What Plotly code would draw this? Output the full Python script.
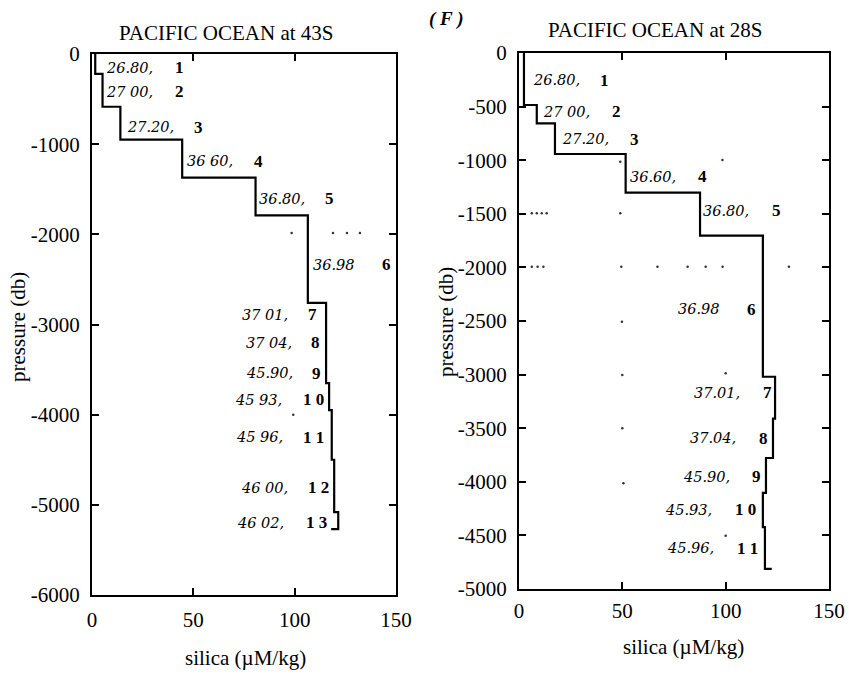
import plotly.graph_objects as go

# ---- Pacific Ocean at 43S: silica step profile ----
s43_silica = [1.6, 5.2, 14.0, 44.5, 80.7, 106.5, 115.5, 117.0, 118.3, 119.5, 121.5]
s43_bottom = [-220, -585, -950, -1370, -1790, -2760, -3650, -3950, -4500, -5080, -5270]
s43_end_silica = 118.0

s43_labels = ["26.80,", "27 00,", "27.20,", "36 60,", "36.80,", "36.98", "37 01,",
              "37 04,", "45.90,", "45 93,", "45 96,", "46 00,", "46 02,"]
s43_index = ["1", "2", "3", "4", "5", "6", "7", "8", "9", "1 0", "1 1", "1 2", "1 3"]
s43_label_x = [6.9, 6.9, 17.3, 46.9, 82.4, 109.0, 74.0, 76.0, 76.0, 70.6, 71.0, 73.5, 71.5]
s43_label_y = [-155, -421, -810, -1187, -1608, -2340, -2894, -3205, -3538, -3837, -4248, -4813, -5201]
s43_index_x = [43.1, 43.1, 52.5, 82.0, 117.4, 145.4, 109.0, 110.5, 110.9, 109.5, 109.5, 112.0, 110.9]

s43_dot_x = [98.5, 118.9, 125.8, 132.2, 99.3]
s43_dot_y = [-1985, -1985, -1985, -1985, -4000]

s43_ticks_x = [0, 50, 100, 150]
s43_ticks_y = [0, -1000, -2000, -3000, -4000, -5000, -6000]

# ---- Pacific Ocean at 28S: silica step profile ----
s28_silica = [2.4, 8.6, 17.4, 51.6, 87.6, 118.0, 123.9, 122.9, 119.5, 118.0, 119.0]
s28_bottom = [-485, -656, -942, -1303, -1704, -3020, -3410, -3778, -4104, -4422, -4813]
s28_end_silica = 122.3

s28_labels = ["26.80,", "27 00,", "27.20,", "36.60,", "36.80,", "36.98", "37.01,",
              "37.04,", "45.90,", "45.93,", "45.96,"]
s28_index = ["1", "2", "3", "4", "5", "6", "7", "8", "9", "1 0", "1 1"]
s28_label_x = [6.6, 11.5, 20.7, 53.7, 89.2, 77.1, 84.7, 82.7, 79.5, 70.6, 71.4]
s28_label_y = [-252, -548, -805, -1154, -1471, -2391, -3169, -3594, -3952, -4263, -4620]
s28_index_x = [41.6, 47.3, 56.1, 89.0, 124.8, 112.6, 120.1, 118.2, 115.0, 109.8, 110.8]

s28_dot_x = [6.2, 8.6, 11.0, 13.4, 49.0, 6.2, 9.0, 11.8, 49.5, 67.0, 81.6, 90.3, 98.5, 130.6,
             49.0, 98.4, 49.8, 50.0, 100.0, 50.0, 50.5, 100.0]
s28_dot_y = [-1495, -1495, -1495, -1495, -1495, -1993, -1993, -1993, -1993, -1993, -1993,
             -1993, -1993, -1993, -1014, -998, -2506, -3004, -2988, -3501, -4014, -4503]

s28_ticks_x = [0, 50, 100, 150]
s28_ticks_y = [0, -500, -1000, -1500, -2000, -2500, -3000, -3500, -4000, -4500, -5000]

SERIF = "Liberation Serif, Times New Roman, serif"
LABEL_FONT = "DejaVu Serif, serif"


def step_points(silica, bottoms, end_x):
    """Vertices for a 'vh' step line: each layer's value drawn from its top to its bottom."""
    tops = [0] + bottoms[:-1]
    xs = list(silica) + [end_x]
    ys = tops + [bottoms[-1]]
    return xs, ys


fig = go.Figure()

for silica, bottoms, end_x, xa, ya in [
    (s43_silica, s43_bottom, s43_end_silica, "x", "y"),
    (s28_silica, s28_bottom, s28_end_silica, "x2", "y2"),
]:
    xs, ys = step_points(silica, bottoms, end_x)
    fig.add_trace(go.Scatter(x=xs, y=ys, mode="lines", line=dict(color="black", width=2.2, shape="vh"),
                             xaxis=xa, yaxis=ya, showlegend=False, hoverinfo="skip"))

fig.add_trace(go.Scatter(x=s43_dot_x, y=s43_dot_y, mode="markers",
                         marker=dict(color="#333", size=2.5), xaxis="x", yaxis="y",
                         showlegend=False, hoverinfo="skip"))
fig.add_trace(go.Scatter(x=s28_dot_x, y=s28_dot_y, mode="markers",
                         marker=dict(color="#333", size=2.5), xaxis="x2", yaxis="y2",
                         showlegend=False, hoverinfo="skip"))

annotations = []
for labels, idx, lx, ly, ix, xr, yr in [
    (s43_labels, s43_index, s43_label_x, s43_label_y, s43_index_x, "x", "y"),
    (s28_labels, s28_index, s28_label_x, s28_label_y, s28_index_x, "x2", "y2"),
]:
    for t, n, x, y, xi in zip(labels, idx, lx, ly, ix):
        annotations.append(dict(x=x, y=y, xref=xr, yref=yr, text=t, showarrow=False,
                                xanchor="left", yanchor="middle", xshift=-2,
                                font=dict(family=LABEL_FONT, size=14.5, style="italic", color="black")))
        annotations.append(dict(x=xi, y=y, xref=xr, yref=yr, text=n, showarrow=False,
                                xanchor="center", yanchor="middle",
                                font=dict(family=SERIF, size=17, weight="bold", color="black")))

# panel titles, axis titles and the figure tag
text_font = dict(family=SERIF, size=21, color="black")
for text, x, y, angle in [
    ("PACIFIC OCEAN at 43S", 226, 33, 0),
    ("PACIFIC OCEAN at 28S", 655, 30, 0),
    ("pressure (db)", 18, 327, -90),
    ("pressure (db)", 446, 322, -90),
    ("silica (\u00b5M/kg)", 245, 658, 0),
    ("silica (\u00b5M/kg)", 683, 647, 0),
]:
    annotations.append(dict(x=x / 849, y=1 - y / 677, xref="paper", yref="paper", text=text,
                            showarrow=False, xanchor="center", yanchor="middle",
                            textangle=angle, font=text_font))
annotations.append(dict(x=446 / 849, y=1 - 19 / 677, xref="paper", yref="paper", text="( F )",
                        showarrow=False, xanchor="center", yanchor="middle",
                        font=dict(family=SERIF, size=19, style="italic", weight="bold", color="black")))

axis_common = dict(showline=True, linecolor="black", linewidth=2, mirror="ticks",
                   ticks="inside", ticklen=7, tickwidth=1.5, tickcolor="black",
                   showgrid=False, zeroline=False, automargin=False,
                   tickfont=dict(family=SERIF, size=21, color="black"))


def tick_text(values):
    return [str(v) for v in values]


fig.update_layout(
    width=849, height=677,
    margin=dict(l=0, r=0, t=0, b=0, autoexpand=False),
    paper_bgcolor="white", plot_bgcolor="white",
    showlegend=False,
    annotations=annotations,
    xaxis=dict(domain=[92 / 849, 396 / 849], range=[0, 150],
               tickvals=s43_ticks_x, ticktext=tick_text(s43_ticks_x),
               anchor="y", ticklabelstandoff=5, **axis_common),
    yaxis=dict(domain=[1 - 595 / 677, 1 - 54 / 677], range=[-6000, 0],
               tickvals=s43_ticks_y, ticktext=tick_text(s43_ticks_y),
               anchor="x", ticklabelstandoff=6, **axis_common),
    xaxis2=dict(domain=[519 / 849, 829 / 849], range=[0, 150],
                tickvals=s28_ticks_x, ticktext=tick_text(s28_ticks_x),
                anchor="y2", ticklabelstandoff=2, **axis_common),
    yaxis2=dict(domain=[1 - 589 / 677, 1 - 53 / 677], range=[-5000, 0],
                tickvals=s28_ticks_y, ticktext=tick_text(s28_ticks_y),
                anchor="x2", ticklabelstandoff=6, **axis_common),
)

fig.write_html("out.html")
